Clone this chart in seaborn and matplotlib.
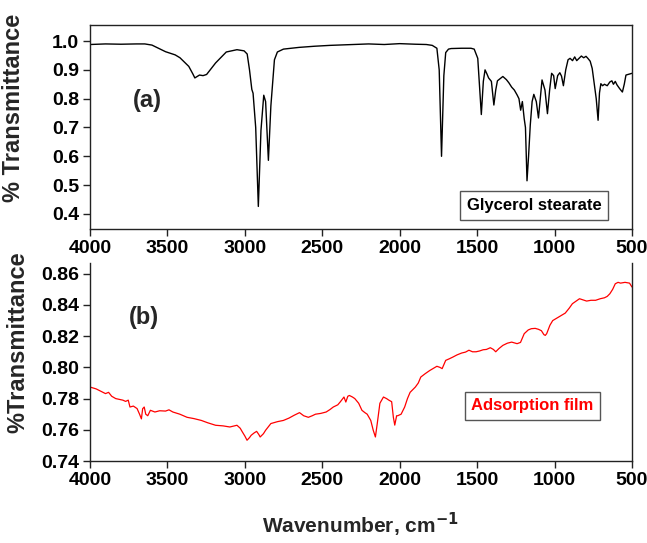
import numpy as np
import pandas as pd
import matplotlib
matplotlib.use("Agg")
import matplotlib.pyplot as plt
import seaborn as sns

# ---- data: (a) Glycerol stearate ----
wn_a = [4000, 3900, 3800, 3700, 3646, 3600, 3512, 3450, 3419, 3362, 3335, 3323, 3293, 3270,
        3247, 3189, 3120, 3051, 3005, 2985, 2970, 2955, 2947, 2930, 2913, 2896, 2878, 2866,
        2848, 2832, 2809, 2790, 2751, 2650, 2550, 2450, 2350, 2250, 2201, 2100, 2000, 1900,
        1828, 1790, 1760, 1745, 1730, 1715, 1703, 1685, 1668, 1600, 1540, 1519, 1496, 1473,
        1460, 1449, 1436, 1426, 1408, 1392, 1380, 1369, 1350, 1334, 1311, 1295, 1277, 1260,
        1242, 1230, 1219, 1208, 1196, 1188, 1178, 1168, 1157, 1145, 1134, 1118, 1104, 1092,
        1081, 1062, 1046, 1032, 1019, 1006, 996, 980, 966, 955, 943, 928, 913, 900, 884, 870,
        857, 842, 827, 812, 797, 785, 770, 757, 747, 738, 731, 719, 710, 701, 690, 678, 660,
        643, 630, 620, 608, 597, 580, 562, 550, 539, 520, 500]
t_a = [0.988, 0.990, 0.989, 0.990, 0.990, 0.986, 0.963, 0.952, 0.942, 0.912, 0.885, 0.872,
       0.882, 0.880, 0.884, 0.924, 0.962, 0.970, 0.966, 0.955, 0.900, 0.832, 0.819, 0.700,
       0.426, 0.690, 0.812, 0.790, 0.586, 0.775, 0.935, 0.962, 0.972, 0.978, 0.982, 0.985,
       0.987, 0.989, 0.990, 0.988, 0.991, 0.989, 0.988, 0.985, 0.975, 0.900, 0.600, 0.880,
       0.960, 0.972, 0.974, 0.975, 0.975, 0.972, 0.940, 0.745, 0.860, 0.900, 0.885, 0.872,
       0.860, 0.778, 0.830, 0.862, 0.870, 0.877, 0.866, 0.855, 0.840, 0.830, 0.813, 0.800,
       0.760, 0.790, 0.730, 0.700, 0.515, 0.600, 0.708, 0.790, 0.815, 0.790, 0.733, 0.800,
       0.865, 0.830, 0.748, 0.830, 0.888, 0.880, 0.835, 0.880, 0.890, 0.878, 0.845, 0.900,
       0.935, 0.940, 0.932, 0.945, 0.932, 0.940, 0.948, 0.942, 0.947, 0.940, 0.930, 0.905,
       0.865, 0.830, 0.800, 0.725, 0.820, 0.852, 0.845, 0.850, 0.845, 0.858, 0.862, 0.850,
       0.860, 0.848, 0.835, 0.823, 0.850, 0.882, 0.885, 0.888]

# ---- data: (b) Adsorption film ----
wn_b = [4000, 3960, 3926, 3900, 3880, 3860, 3834, 3810, 3788, 3770, 3753, 3742, 3720, 3696,
        3680, 3668, 3660, 3650, 3640, 3627, 3610, 3581, 3550, 3512, 3490, 3465, 3420, 3373,
        3330, 3281, 3240, 3189, 3140, 3097, 3051, 3030, 3016, 3000, 2986, 2970, 2959, 2940,
        2924, 2910, 2901, 2880, 2866, 2832, 2790, 2751, 2715, 2682, 2647, 2620, 2590, 2565,
        2544, 2510, 2475, 2450, 2429, 2400, 2383, 2360, 2348, 2335, 2325, 2305, 2290, 2265,
        2244, 2225, 2210, 2187, 2171, 2157, 2145, 2128, 2105, 2085, 2070, 2052, 2041, 2032,
        2020, 2013, 1991, 1968, 1950, 1933, 1899, 1880, 1864, 1835, 1806, 1780, 1760, 1740,
        1726, 1703, 1680, 1657, 1630, 1600, 1575, 1553, 1530, 1507, 1485, 1461, 1440, 1415,
        1395, 1380, 1360, 1334, 1305, 1277, 1242, 1220, 1196, 1170, 1150, 1125, 1104, 1085,
        1069, 1060, 1051, 1030, 1012, 970, 931, 905, 885, 860, 839, 815, 793, 765, 735, 705,
        678, 660, 643, 625, 608, 590, 574, 545, 516, 500]
t_b = [0.7874, 0.7862, 0.7845, 0.7832, 0.7840, 0.7815, 0.7800, 0.7795, 0.7790, 0.7782,
       0.7790, 0.7746, 0.7752, 0.7736, 0.7700, 0.7670, 0.7735, 0.7746, 0.7700, 0.7690,
       0.7725, 0.7714, 0.7722, 0.7720, 0.7728, 0.7714, 0.7700, 0.7680, 0.7672, 0.7660,
       0.7645, 0.7629, 0.7625, 0.7618, 0.7629, 0.7610, 0.7586, 0.7560, 0.7533, 0.7550,
       0.7565, 0.7580, 0.7590, 0.7570, 0.7554, 0.7575, 0.7597, 0.7640, 0.7652, 0.7660,
       0.7675, 0.7693, 0.7710, 0.7690, 0.7680, 0.7690, 0.7700, 0.7705, 0.7714, 0.7730,
       0.7746, 0.7760, 0.7780, 0.7810, 0.7778, 0.7815, 0.7820, 0.7810, 0.7800, 0.7770,
       0.7725, 0.7710, 0.7700, 0.7660, 0.7597, 0.7554, 0.7640, 0.7770, 0.7810, 0.7800,
       0.7790, 0.7780, 0.7680, 0.7630, 0.7690, 0.7690, 0.7700, 0.7746, 0.7800, 0.7840,
       0.7874, 0.7900, 0.7938, 0.7960, 0.7980, 0.7995, 0.8007, 0.8000, 0.7992, 0.8045,
       0.8055, 0.8066, 0.8080, 0.8092, 0.8098, 0.8110, 0.8100, 0.8100, 0.8105, 0.8113,
       0.8115, 0.8126, 0.8115, 0.8100, 0.8120, 0.8141, 0.8155, 0.8162, 0.8152, 0.8160,
       0.8216, 0.8240, 0.8248, 0.8250, 0.8244, 0.8235, 0.8210, 0.8205, 0.8216, 0.8270,
       0.8300, 0.8325, 0.8348, 0.8380, 0.8408, 0.8425, 0.8440, 0.8432, 0.8425, 0.8430,
       0.8430, 0.8440, 0.8446, 0.8455, 0.8472, 0.8500, 0.8536, 0.8545, 0.8540, 0.8545,
       0.8540, 0.8515]

xticks = [4000, 3500, 3000, 2500, 2000, 1500, 1000, 500]
yticks_a = [0.4, 0.5, 0.6, 0.7, 0.8, 0.9, 1.0]
yticks_b = [0.74, 0.76, 0.78, 0.80, 0.82, 0.84, 0.86]

sns.set_theme(style="white")
plt.rcParams['font.family'] = ['Liberation Sans', 'DejaVu Sans']
plt.rcParams['font.weight'] = 'bold'
plt.rcParams['mathtext.default'] = 'bf'

W, H = 647, 543
fig = plt.figure(figsize=(W / 100, H / 100), dpi=100)
fig.patch.set_facecolor('white')

def frac(l, t, r, b):
    return [l / W, 1 - b / H, (r - l) / W, (b - t) / H]

ax1 = fig.add_axes(frac(90, 25, 632, 229))
ax2 = fig.add_axes(frac(90, 263, 632, 461))

df_a = pd.DataFrame({'wn': wn_a, 't': t_a})
df_b = pd.DataFrame({'wn': wn_b, 't': t_b})
sns.lineplot(data=df_a, x='wn', y='t', ax=ax1, color='black', lw=1.0, estimator=None, sort=False)
sns.lineplot(data=df_b, x='wn', y='t', ax=ax2, color='red', lw=0.9, estimator=None, sort=False)

for ax in (ax1, ax2):
    ax.set_xlim(4000, 500)
    ax.set_xticks(xticks)
    ax.set_xticklabels([str(v) for v in xticks])
    ax.set_xlabel('')
    ax.set_ylabel('')
    ax.tick_params(axis='both', which='major', direction='out', length=5, width=1,
                   color='#222222', labelsize=14, pad=3, bottom=True, left=True,
                   labelcolor='black')
    for s in ax.spines.values():
        s.set_color('#222222')
        s.set_linewidth(1.0)
    ax.set_facecolor('white')

ax1.set_ylim(0.3477, 1.0557)
ax1.set_yticks(yticks_a)
ax1.set_yticklabels([f"{v:.1f}" for v in yticks_a])
ax2.set_ylim(0.74, 0.8669)
ax2.set_yticks(yticks_b)
ax2.set_yticklabels([f"{v:.2f}" for v in yticks_b])
ax2.spines['top'].set_visible(False)
for ax in (ax1, ax2):
    for lab in ax.get_xticklabels() + ax.get_yticklabels():
        lab.set_fontweight('bold')

ax1.text(3632, 0.794, '(a)', fontsize=17, fontweight='bold', ha='center', va='center')
ax2.text(3650, 0.8317, '(b)', fontsize=17, fontweight='bold', ha='center', va='center')
ax1.text(1133, 0.429, 'Glycerol stearate', fontsize=12, fontweight='bold', ha='center',
         va='center', color='black',
         bbox=dict(boxstyle='square,pad=0.4', fc='white', ec='#555555', lw=1))
ax2.text(1142, 0.7753, 'Adsorption film', fontsize=12, fontweight='bold', ha='center',
         va='center', color='red',
         bbox=dict(boxstyle='square,pad=0.4', fc='white', ec='#555555', lw=1))

fig.text(14 / W, 1 - 108 / H, '% Transmittance', rotation=90, fontsize=17,
         fontweight='bold', ha='center', va='center')
fig.text(18 / W, 1 - 342 / H, '%Transmittance', rotation=90, fontsize=17,
         fontweight='bold', ha='center', va='center')
fig.text(360 / W, 1 - 525 / H, 'Wavenumber, cm$^{-1}$', fontsize=15,
         fontweight='bold', ha='center', va='center')

fig.savefig('out.png', dpi=100, facecolor='white')
